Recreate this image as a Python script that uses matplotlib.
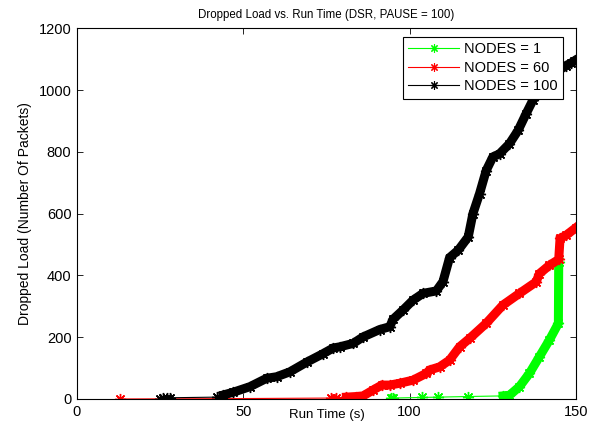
import matplotlib
matplotlib.use('Agg')
from matplotlib import pyplot as plt

# cumulative dropped packets per run, NODES = 1 / 60 / 100
green_t = [94.5, 95, 103.6, 108.6, 117.6, 128.1, 130, 133, 136, 139, 142, 144.7, 144.8]
green_v = [2, 3, 5, 6, 8, 10, 12, 40, 83, 137, 191, 245, 445]

red_t = [13, 43, 76.5, 78, 81, 84, 86, 89, 91.6, 94, 97, 101, 105, 106, 109, 112, 115, 118,
         123, 128, 133, 138, 139, 142, 144.8, 145.2, 147, 150]
red_v = [0, 1, 3, 4, 6, 8, 10, 29, 45, 45, 51, 61, 83, 94, 104, 126, 169, 196,
         245, 304, 342, 379, 406, 433, 452, 520, 530, 555]

black_t = [25, 26, 27, 28, 42, 44, 47, 52, 57, 60, 64, 69, 74, 77, 79, 83, 86, 91, 94, 95,
           98, 101, 104, 108, 110, 112, 114.6, 117.6, 119, 121, 123, 125, 127, 130, 132.6,
           135, 137, 140, 143, 147, 148.5, 149.5]
black_v = [1, 2, 3, 4, 6, 13, 22, 40, 67, 72, 88, 119, 147, 165, 169, 180, 201, 225, 234, 258,
           288, 320, 342, 350, 380, 458, 482, 525, 600, 665, 740, 784, 794, 827, 870,
           924, 967, 1010, 1050, 1080, 1088, 1095]

labels = ['NODES = 1', 'NODES = 60', 'NODES = 100']
colors = ['#00ff00', '#ff0000', '#000000']
# time from which packets drop so often that the markers merge into a band
dense_from = [128, 81, 44]

plt.rcParams['font.family'] = ['Liberation Sans', 'DejaVu Sans']

fig = plt.figure(figsize=(5.9, 4.37), dpi=100)
ax = fig.add_axes([0.1305, 0.087, 0.8458, 0.8478])

star = (8, 2, 0)
series = [(green_t, green_v), (red_t, red_v), (black_t, black_v)]
for (t, v), lab, c, d in zip(series, labels, colors, dense_from):
    td = [x for x in t if x >= d]
    vd = [y for x, y in zip(t, v) if x >= d]
    ax.plot(td, vd, color=c, lw=6.5, solid_joinstyle='miter')
    ax.plot(t, v, color=c, lw=0.8, marker=star, ms=8, mew=1.0, label=lab)

ax.set_xlim(0, 150)
ax.set_ylim(0, 1200)
ax.set_xticks([0, 50, 100, 150])
ax.set_yticks(range(0, 1201, 200))
ax.tick_params(direction='in', top=True, right=True, length=4, width=0.6,
               labelsize=10.5, pad=4)
for s in ax.spines.values():
    s.set_linewidth(0.8)

ax.set_title('Dropped Load vs. Run Time (DSR, PAUSE = 100)', fontsize=8.3, pad=7.5)
ax.set_xlabel('Run Time (s)', fontsize=9.5, labelpad=-7)
ax.set_ylabel('Dropped Load (Number Of Packets)', fontsize=10, labelpad=5)

leg = ax.legend(loc='upper right', bbox_to_anchor=(0.974, 0.977), borderaxespad=0,
                fancybox=False, framealpha=1, edgecolor='black', fontsize=10.5,
                handlelength=3.5, handletextpad=0.35, labelspacing=0.32,
                borderpad=0.35)
leg.get_frame().set_linewidth(0.8)
for h in leg.legend_handles:
    h.set_markersize(6)
    h.set_markeredgewidth(0.8)

plt.savefig('out.png', dpi=100)
